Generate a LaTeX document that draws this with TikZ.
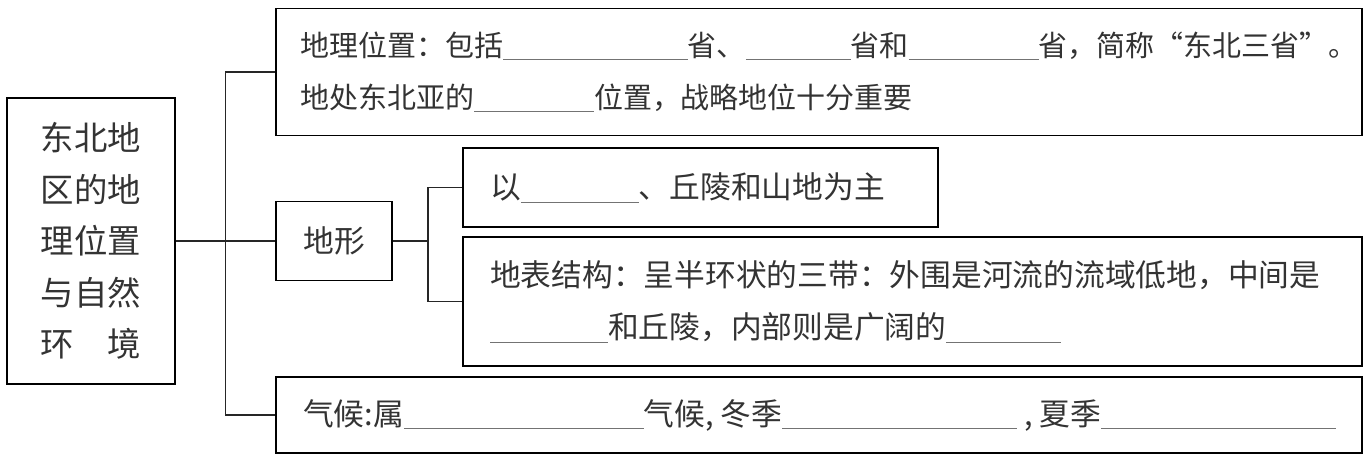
\documentclass[tikz,border=0pt]{standalone}
\usepackage{xcolor}
\usepackage{fontspec}
\setmainfont{Noto Sans CJK SC}
\usepackage{tikz}
\usetikzlibrary{positioning}
\tikzstyle{textbox} = [rectangle, draw=black, line width=1.1pt, inner ysep=0pt,
                       align=left, text=black!80, font=\fontsize{17.5}{29.6}\selectfont]
\tikzstyle{link} = [line width=0.6pt, draw=black!85]
\newcommand{\fillblank}[1]{\textcolor{black!55}{\rule[-0.14em]{#1}{0.5pt}}}

\begin{document}
\begin{tikzpicture}[x=0.02cm, y=-0.02cm]
  \useasboundingbox (0,0) rectangle (1368,458);

  \node (region) [textbox, align=center, minimum width=3.36cm, minimum height=5.72cm,
                  font=\fontsize{19}{29.3}\selectfont] at (91,241)
        {东北地\\区的地\\理位置\\与自然\\环\hspace{1em}境};
  \node (loc) [textbox, minimum width=21.72cm, minimum height=2.54cm,
               inner xsep=0.48cm, text width=20.76cm,
               font=\fontsize{16.5}{29.6}\selectfont] at (819,72)
        {地理位置：包括\fillblank{3.7cm}省、\fillblank{2.1cm}省和\fillblank{2.6cm}省，简称“东北三省”。\\
         地处东北亚的\fillblank{2.4cm}位置，战略地位十分重要};
  \node (terrain) [textbox, align=center, minimum width=2.32cm, minimum height=1.58cm] at (334,241) {地形};
  \node (plain) [textbox, minimum width=9.5cm, minimum height=1.58cm,
                 inner xsep=0.54cm, text width=8.42cm] at (700.5,187.5)
        {以\fillblank{2.36cm}、丘陵和山地为主};
  \node (struct) [textbox, minimum width=17.98cm, minimum height=2.58cm,
                  inner xsep=0.54cm, text width=16.9cm] at (912.5,301.5)
        {地表结构：呈半环状的三带：外围是河流的流域低地，中间是\\
         \fillblank{2.36cm}和丘陵，内部则是广阔的\fillblank{2.3cm}};
  \node (climate) [textbox, minimum width=21.72cm, minimum height=1.52cm,
                   inner xsep=0.54cm, text width=20.64cm] at (819,415)
        {气候:属\fillblank{4.8cm}气候,\kern4pt冬季\fillblank{4.7cm}\kern4pt,\kern4pt夏季\fillblank{4.7cm}};

  % branches
  \coordinate (hub) at (225.5,241);
  \coordinate (subhub) at (428,241);
  \draw [link] (region) -- (terrain);
  \draw [link] (loc.west) -| (hub) |- (climate.west);
  \draw [link] (terrain) -- (subhub);
  \draw [link] (plain.west) -| (subhub) |- (struct.west);
\end{tikzpicture}
\end{document}
